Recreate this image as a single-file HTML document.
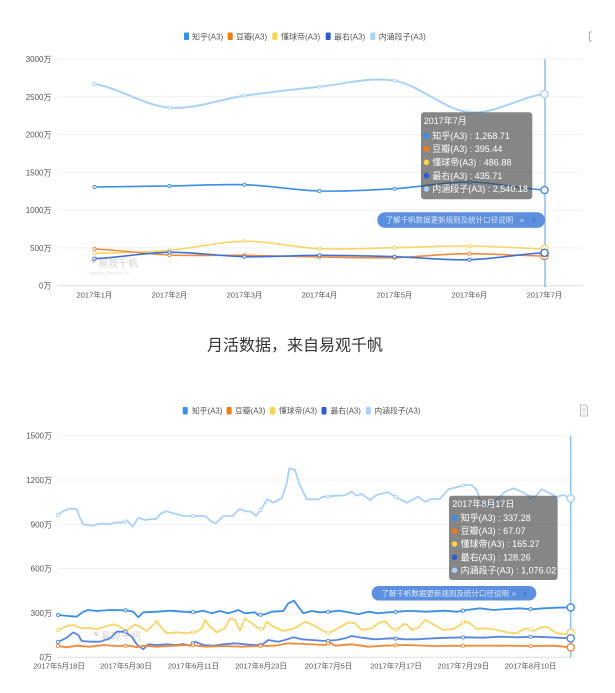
<!DOCTYPE html>
<html><head><meta charset="utf-8"><style>
html,body{margin:0;padding:0;background:#fff;}
svg{display:block;font-family:"Liberation Sans","Noto Sans CJK SC",sans-serif;}
</style></head><body>
<svg width="615" height="693" viewBox="0 0 615 693" xmlns="http://www.w3.org/2000/svg">
<rect width="615" height="693" fill="#fff"/>

<!-- ============ CHART 1 ============ -->
<!-- legend -->
<g font-size="8" fill="#555">
<rect x="184" y="32.5" width="5" height="7.5" rx="1" fill="#3a8ee6"/><text x="192" y="39.3">知乎(A3)</text>
<rect x="227.7" y="32.5" width="5" height="7.5" rx="1" fill="#f07c13"/><text x="236" y="39.3">豆瓣(A3)</text>
<rect x="272.3" y="32.5" width="5" height="7.5" rx="1" fill="#fbd350"/><text x="281" y="39.3">懂球帝(A3)</text>
<rect x="325.7" y="32.5" width="5" height="7.5" rx="1" fill="#2d5fcc"/><text x="334" y="39.3">最右(A3)</text>
<rect x="370.3" y="32.5" width="5" height="7.5" rx="1" fill="#a9d2fb"/><text x="378.7" y="39.3">内涵段子(A3)</text>
</g>
<path d="M592,32 L589.5,32 L589.5,41 L592,41" fill="none" stroke="#999" stroke-width="0.8"/>

<!-- grid -->
<g stroke="#f1f1f1" stroke-width="1">
<line x1="57.7" y1="59" x2="582.7" y2="59"/>
<line x1="57.7" y1="96.8" x2="582.7" y2="96.8"/>
<line x1="57.7" y1="134.6" x2="582.7" y2="134.6"/>
<line x1="57.7" y1="172.3" x2="582.7" y2="172.3"/>
<line x1="57.7" y1="210.1" x2="582.7" y2="210.1"/>
<line x1="57.7" y1="247.9" x2="582.7" y2="247.9"/>
</g>
<line x1="57.7" y1="285.7" x2="582.7" y2="285.7" stroke="#dedede" stroke-width="1"/>
<g font-size="8" fill="#555" text-anchor="end">
<text x="51.5" y="62">3000万</text>
<text x="51.5" y="99.8">2500万</text>
<text x="51.5" y="137.6">2000万</text>
<text x="51.5" y="175.3">1500万</text>
<text x="51.5" y="213.1">1000万</text>
<text x="51.5" y="250.9">500万</text>
<text x="51.5" y="288.7">0万</text>
</g>
<g font-size="7.5" fill="#555" text-anchor="middle">
<text x="94.5" y="297.5">2017年1月</text>
<text x="169.5" y="297.5">2017年2月</text>
<text x="244.5" y="297.5">2017年3月</text>
<text x="319.5" y="297.5">2017年4月</text>
<text x="394.5" y="297.5">2017年5月</text>
<text x="469.5" y="297.5">2017年6月</text>
<text x="544.5" y="297.5">2017年7月</text>
</g>

<!-- watermark -->
<g fill="#d2d2d2">
<path d="M89,262 l4,-4 l1,3 l3,-1 l-4,4 l-1,-3z" fill="#d5d5d5"/>
<text x="98" y="267" font-size="10">易观千帆</text>
<text x="90" y="274.5" font-size="4.5" fill="#e0e0e0">qianfan.analysys.cn</text>
</g>

<!-- series -->
<g fill="none" stroke-linecap="round" stroke-linejoin="round">
<path stroke="#a9d2fb" stroke-width="2" d="M94.5,84 C119.5,87.95 144.5,105.75 169.5,107.7 C194.5,109.65 219.5,99.2 244.5,95.7 C269.5,92.2 294.5,89.2 319.5,86.7 C344.5,84.2 369.5,76.43 394.5,80.7 C419.5,84.97 444.5,110.08 469.5,112.3 C494.5,114.52 519.5,97.05 544.5,94"/>
<path stroke="#3b8fe8" stroke-width="1.6" d="M94.5,187 C119.5,186.83 144.5,186.38 169.5,186 C194.5,185.62 219.5,183.87 244.5,184.7 C269.5,185.53 294.5,190.33 319.5,191 C344.5,191.67 369.5,190.2 394.5,188.7 C419.5,187.2 444.5,181.78 469.5,182 C494.5,182.22 519.5,188.67 544.5,190"/>
<path stroke="#fad466" stroke-width="1.6" d="M94.5,253.3 C119.5,252.8 144.5,252.3 169.5,250.3 C194.5,248.3 219.5,241.57 244.5,241.3 C269.5,241.03 294.5,247.63 319.5,248.7 C344.5,249.77 369.5,248.15 394.5,247.7 C419.5,247.25 444.5,245.82 469.5,246 C494.5,246.18 519.5,248.33 544.5,248.8"/>
<path stroke="#f5893a" stroke-width="1.6" d="M94.5,249 C119.5,250 144.5,253.95 169.5,255 C194.5,256.05 219.5,254.97 244.5,255.3 C269.5,255.63 294.5,256.6 319.5,257 C344.5,257.4 369.5,258.25 394.5,257.7 C419.5,257.15 444.5,253.42 469.5,253.7 C494.5,253.98 519.5,255.62 544.5,256"/>
<path stroke="#3f72d8" stroke-width="1.6" d="M94.5,258.7 C119.5,257.63 144.5,252.63 169.5,252.3 C194.5,251.97 219.5,256.2 244.5,256.7 C269.5,257.2 294.5,255.3 319.5,255.3 C344.5,255.3 369.5,255.97 394.5,256.7 C419.5,257.43 444.5,260.35 469.5,259.7 C494.5,259.05 519.5,253.95 544.5,252.8"/>
</g>
<!-- markers -->
<g fill="#fff" stroke-width="0.9">
<g stroke="#a9d2fb"><circle cx="94.5" cy="84" r="1.6"/><circle cx="169.5" cy="107.7" r="1.6"/><circle cx="244.5" cy="95.7" r="1.6"/><circle cx="319.5" cy="86.7" r="1.6"/><circle cx="394.5" cy="80.7" r="1.6"/><circle cx="469.5" cy="112.3" r="1.6"/></g>
<g stroke="#3b8fe8"><circle cx="94.5" cy="187" r="1.6"/><circle cx="169.5" cy="186" r="1.6"/><circle cx="244.5" cy="184.7" r="1.6"/><circle cx="319.5" cy="191" r="1.6"/><circle cx="394.5" cy="188.7" r="1.6"/><circle cx="469.5" cy="182" r="1.6"/></g>
<g stroke="#fad466"><circle cx="94.5" cy="253.3" r="1.6"/><circle cx="169.5" cy="250.3" r="1.6"/><circle cx="244.5" cy="241.3" r="1.6"/><circle cx="319.5" cy="248.7" r="1.6"/><circle cx="394.5" cy="247.7" r="1.6"/><circle cx="469.5" cy="246" r="1.6"/></g>
<g stroke="#f5893a"><circle cx="94.5" cy="249" r="1.6"/><circle cx="169.5" cy="255" r="1.6"/><circle cx="244.5" cy="255.3" r="1.6"/><circle cx="319.5" cy="257" r="1.6"/><circle cx="394.5" cy="257.7" r="1.6"/><circle cx="469.5" cy="253.7" r="1.6"/></g>
<g stroke="#3f72d8"><circle cx="94.5" cy="258.7" r="1.6"/><circle cx="169.5" cy="252.3" r="1.6"/><circle cx="244.5" cy="256.7" r="1.6"/><circle cx="319.5" cy="255.3" r="1.6"/><circle cx="394.5" cy="256.7" r="1.6"/><circle cx="469.5" cy="259.7" r="1.6"/></g>
</g>
<!-- axis pointer -->
<line x1="545" y1="59" x2="545" y2="287" stroke="#5b9be6" stroke-width="1"/>
<g fill="#fff" stroke-width="1.4">
<circle cx="544.5" cy="94" r="3.6" stroke="#a9d2fb"/>
<circle cx="544.5" cy="190" r="3.6" stroke="#3b8fe8"/>
<circle cx="544.5" cy="248.8" r="3.6" stroke="#fad466"/>
<circle cx="544.5" cy="256" r="3.6" stroke="#f5893a"/>
<circle cx="544.5" cy="252.8" r="3.6" stroke="#3f72d8"/>
</g>
<!-- tooltip -->
<rect x="421" y="112.3" width="111.3" height="87" rx="3" fill="rgba(60,60,60,0.62)"/>
<g font-size="9" fill="#fff">
<text x="423.7" y="124.2">2017年7月</text>
<circle cx="426.5" cy="135.7" r="2.8" fill="#3a8ee6"/><text x="432.3" y="138.9">知乎(A3) : 1,268.71</text>
<circle cx="426.5" cy="149" r="2.8" fill="#f07c13"/><text x="432.3" y="152.2">豆瓣(A3) : 395.44</text>
<circle cx="426.5" cy="162.3" r="2.8" fill="#fbd350"/><text x="432.3" y="165.5">懂球帝(A3) : 486.88</text>
<circle cx="426.5" cy="175.7" r="2.8" fill="#2d5fcc"/><text x="432.3" y="178.9">最右(A3) : 435.71</text>
<circle cx="426.5" cy="189" r="2.8" fill="#a9d2fb"/><text x="432.3" y="192.2">内涵段子(A3) : 2,540.18</text>
</g>
<!-- button -->
<rect x="377.3" y="213" width="167.7" height="15.4" rx="7.7" fill="#c9d6ee" opacity="0.6"/>
<rect x="377.3" y="212.3" width="167.7" height="15.4" rx="7.7" fill="#5d8fe0"/>
<g font-size="7.5" fill="#dce8fb">
<text x="385.7" y="222.6">了解千帆数据更新规则及统计口径说明</text>
<text x="520" y="222.6">»</text>
<text x="531.5" y="222.6" fill="#3a64b3">×</text>
</g>

<!-- title -->
<text x="295" y="350.5" font-size="16" fill="#333" text-anchor="middle">月活数据，来自易观千帆</text>

<!-- ============ CHART 2 ============ -->
<g font-size="7.8" fill="#555">
<rect x="182.7" y="407" width="5" height="7.5" rx="1" fill="#3a8ee6"/><text x="192" y="413.7">知乎(A3)</text>
<rect x="226.6" y="407" width="5" height="7.5" rx="1" fill="#f07c13"/><text x="235" y="413.7">豆瓣(A3)</text>
<rect x="270" y="407" width="5" height="7.5" rx="1" fill="#fbd350"/><text x="279" y="413.7">懂球帝(A3)</text>
<rect x="321.5" y="407" width="5" height="7.5" rx="1" fill="#2d5fcc"/><text x="330.5" y="413.7">最右(A3)</text>
<rect x="365.8" y="407" width="5" height="7.5" rx="1" fill="#a9d2fb"/><text x="374.4" y="413.7">内涵段子(A3)</text>
</g>
<!-- doc icon -->
<path d="M580.5,405 L585.5,405 L587.5,407 L587.5,416 L580.5,416 Z" fill="#fff" stroke="#aaa" stroke-width="0.8"/>
<line x1="582" y1="409" x2="586" y2="409" stroke="#bbb" stroke-width="0.6"/>
<line x1="582" y1="411" x2="586" y2="411" stroke="#bbb" stroke-width="0.6"/>
<line x1="582" y1="413" x2="586" y2="413" stroke="#bbb" stroke-width="0.6"/>

<g stroke="#f1f1f1" stroke-width="1">
<line x1="57.5" y1="435.7" x2="570.5" y2="435.7"/>
<line x1="57.5" y1="480" x2="570.5" y2="480"/>
<line x1="57.5" y1="524.3" x2="570.5" y2="524.3"/>
<line x1="57.5" y1="568.6" x2="570.5" y2="568.6"/>
<line x1="57.5" y1="612.9" x2="570.5" y2="612.9"/>
</g>
<line x1="57.5" y1="657.2" x2="570.5" y2="657.2" stroke="#dedede" stroke-width="1"/>
<g font-size="8" fill="#555" text-anchor="end">
<text x="52" y="438.7">1500万</text>
<text x="52" y="483">1200万</text>
<text x="52" y="527.3">900万</text>
<text x="52" y="571.6">600万</text>
<text x="52" y="615.9">300万</text>
<text x="52" y="660.2">0万</text>
</g>
<g font-size="7.5" fill="#555" text-anchor="middle">
<text x="59" y="668.5">2017年5月18日</text>
<text x="126" y="668.5">2017年5月30日</text>
<text x="193.5" y="668.5">2017年6月11日</text>
<text x="261" y="668.5">2017年6月23日</text>
<text x="328.5" y="668.5">2017年7月5日</text>
<text x="396" y="668.5">2017年7月17日</text>
<text x="463.3" y="668.5">2017年7月29日</text>
<text x="530.6" y="668.5">2017年8月10日</text>
</g>

<!-- watermark 2 -->
<g fill="#d2d2d2">
<path d="M92,635 l4,-4 l1,3 l3,-1 l-4,4 l-1,-3z" fill="#d5d5d5"/>
<text x="101" y="640" font-size="10">易观千帆</text>
<text x="93" y="647.5" font-size="4.5" fill="#e0e0e0">qianfan.analysys.cn</text>
</g>

<g fill="none" stroke-linecap="round" stroke-linejoin="round" stroke-width="1.8">
<polyline stroke="#a9d2fb" points="58,515 63.3,511 70,508.7 76.7,509 80,518 83.3,524.3 91.7,525.7 100,523.7 110,524.3 115,522.7 123.3,522.3 127.3,520.7 132.7,526.7 138.3,517.7 145,520 150,519 156,519 161.7,512.7 166.7,511.3 173.3,513.3 183.3,516 195,516 205,516 211.7,521.7 216,523.3 223.3,516 232.7,516 239.3,509 246,511.3 251,511.7 256,516 261.7,508.3 267.3,499.3 273.3,502.7 281.7,498.3 286.7,483.3 289.3,468.3 295,470 299.3,484 306.7,499.3 318.3,499.3 323.3,496.7 336.7,495.7 345,495.3 351.7,491.7 356.7,495.7 361.7,494 370,500 376.7,495 388.3,492 395,496.7 406.7,502.7 418.3,496.7 425,501.7 431.7,499 440,499 448.3,489.3 456.7,487.3 465,485 471.7,485 476.7,490 481,503 487,507 492,503 498.3,498.3 505,491.7 513.3,488.3 521.7,491.7 530,496.7 535,496.7 541.7,489.3 548.3,492.7 556.7,496.7 563.3,495 570.7,498.3"/>
<polyline stroke="#3b8fe8" points="58,615 68.3,616 76.7,616.7 83.3,611.7 88.3,610 96.7,611 110,610 126.7,610.3 133.3,611.7 138.3,617.3 143.3,612.3 156.7,611.7 170,610.7 183.3,611.7 195,612.3 203.3,610.7 211.7,613.3 220,611 228.3,613.3 231.7,612.3 238.3,610 245,613.3 255,612.3 258.3,615 265,614.3 271.7,611.7 283.3,611 288.3,603.3 294,600.7 298.3,606.7 303.3,613.3 311.7,611 320,612.3 330,611.7 340,610.7 348.3,612.3 358.3,614.3 368.3,611.7 378.3,613.3 388.3,612.3 398.3,611.7 405,611 413.3,611 426.7,611.7 443.3,610.7 456.7,611.7 466.7,610 480,608.3 493.3,610 506.7,609 520,608.3 531.7,609.3 543.3,608.3 556.7,607.7 570.7,607.4"/>
<polyline stroke="#fad466" points="58,630 68.3,625.7 73.3,625 81.7,628.3 90,627.7 96.7,629.3 106.7,626 115,624.3 120,626.7 125,631 130,628.3 135,624.3 140,626.7 146.7,631 153.3,625 156.7,621 161.7,628.3 166.7,633.3 176.7,632.3 186.7,633.3 196.7,631.7 201.7,628.3 205,620 210,626.7 216.7,632.3 225,628 230,618.3 235,620 240,630.7 245,618.3 251.7,623.3 258.3,628.3 263.3,629.3 266.7,621.7 273.3,626.7 283.3,631 295,628.3 305,621.7 313.3,625 321.7,630 328.3,633.3 338.3,628.3 348.3,622.3 355,623.3 361.7,630 371.7,628.3 378.3,623.3 385,621 391.7,628.3 396.7,630 403.3,624.3 406.7,624.3 411.7,630 418.3,627.7 425,620 433.3,624.3 443.3,630 453.3,629 460,625 465,621 470,623.3 476.7,629 486.7,628.3 496.7,630 506.7,632.3 516.7,633.3 525,628.3 533.3,631 540,627.7 546.7,626.7 556.7,633.3 565,634.3 570.7,632.8"/>
<polyline stroke="#5a86e0" points="58,642 66.7,637.7 73.3,632.3 78.3,635 81.7,641 90,641.7 100,641.7 110,638.3 116.7,631.7 125,631.7 131.7,636.7 136.7,644.3 143.3,649.3 148.3,644.3 156.7,645 166.7,644.3 176.7,645 183.3,644 190,645.7 195,641.7 203.3,645 213.3,645.7 223.3,644.3 235,643.3 245,644.3 255,645 261.7,645 268.3,640 278.3,641.7 285,640 293.3,637.3 301.7,639.3 311.7,640 325,641 336.7,640 345,638.3 351.7,636 361.7,637.7 375,639.3 391.7,638.3 405,639.3 416.7,639.3 433.3,638.3 450,637.7 466.7,637.3 483.3,637.7 500,636.7 516.7,637.3 533.3,636.7 550,637.3 570.7,638.3"/>
<polyline stroke="#f5893a" points="58,646 66.7,647.3 76.7,645.7 90,646.7 103.3,645 116.7,646 130,645.7 136.7,647.3 143.3,645.7 156.7,646.7 173.3,645.7 190,645 206.7,646.7 223.3,646 241.7,646.7 258.3,646 275,645.7 288.3,643.3 305,644 325,645 330,642.7 335,645.7 351.7,644.3 368.3,646.7 385,645.7 405,645 433.3,646 466.7,645.7 500,645.7 533.3,646 553.3,645.7 570.7,647.3"/>
</g>
<!-- markers 2 -->
<g fill="#fff" stroke-width="0.9">
<g stroke="#a9d2fb"><circle cx="58" cy="515" r="1.6"/><circle cx="125.5" cy="521.5" r="1.6"/><circle cx="193" cy="516" r="1.6"/><circle cx="260.5" cy="510" r="1.6"/><circle cx="328" cy="496.5" r="1.6"/><circle cx="395.6" cy="497" r="1.6"/><circle cx="463" cy="485.5" r="1.6"/><circle cx="530.6" cy="496.7" r="1.6"/></g>
<g stroke="#3b8fe8"><circle cx="58" cy="615" r="1.6"/><circle cx="125.5" cy="610.3" r="1.6"/><circle cx="193" cy="612.2" r="1.6"/><circle cx="260.5" cy="614.8" r="1.6"/><circle cx="328" cy="611.8" r="1.6"/><circle cx="395.6" cy="611.9" r="1.6"/><circle cx="463" cy="610.6" r="1.6"/><circle cx="530.6" cy="609.2" r="1.6"/></g>
<g stroke="#fad466"><circle cx="58" cy="630" r="1.6"/><circle cx="125.5" cy="630.7" r="1.6"/><circle cx="193" cy="632.3" r="1.6"/><circle cx="260.5" cy="628.8" r="1.6"/><circle cx="328" cy="633.2" r="1.6"/><circle cx="395.6" cy="629.6" r="1.6"/><circle cx="463" cy="622.4" r="1.6"/><circle cx="530.6" cy="629.6" r="1.6"/></g>
<g stroke="#5a86e0"><circle cx="58" cy="642" r="1.6"/><circle cx="125.5" cy="631.7" r="1.6"/><circle cx="193" cy="643.3" r="1.6"/><circle cx="260.5" cy="645" r="1.6"/><circle cx="328" cy="640.8" r="1.6"/><circle cx="395.6" cy="638.6" r="1.6"/><circle cx="463" cy="637.4" r="1.6"/><circle cx="530.6" cy="636.8" r="1.6"/></g>
<g stroke="#f5893a"><circle cx="58" cy="646" r="1.6"/><circle cx="125.5" cy="645.8" r="1.6"/><circle cx="193" cy="645.3" r="1.6"/><circle cx="260.5" cy="645.9" r="1.6"/><circle cx="328" cy="643.6" r="1.6"/><circle cx="395.6" cy="645.3" r="1.6"/><circle cx="463" cy="645.7" r="1.6"/><circle cx="530.6" cy="646" r="1.6"/></g>
</g>
<line x1="570.7" y1="435.7" x2="570.7" y2="658" stroke="#8dc1f2" stroke-width="1.4"/>
<g fill="#fff" stroke-width="1.4">
<circle cx="570.7" cy="498.3" r="3.6" stroke="#a9d2fb"/>
<circle cx="570.7" cy="607.4" r="3.6" stroke="#3b8fe8"/>
<circle cx="570.7" cy="632.8" r="3.6" stroke="#fad466"/>
<circle cx="570.7" cy="638.3" r="3.6" stroke="#5a86e0"/>
<circle cx="570.7" cy="647.3" r="3.6" stroke="#f5893a"/>
</g>
<!-- tooltip 2 -->
<rect x="449" y="495.7" width="108.6" height="84.3" rx="3" fill="rgba(60,60,60,0.62)"/>
<g font-size="9" fill="#fff">
<text x="452.3" y="507.2">2017年8月17日</text>
<circle cx="454.5" cy="518" r="2.8" fill="#3a8ee6"/><text x="460.6" y="521.2">知乎(A3) : 337.28</text>
<circle cx="454.5" cy="531" r="2.8" fill="#f07c13"/><text x="460.6" y="534.2">豆瓣(A3) : 67.07</text>
<circle cx="454.5" cy="544" r="2.8" fill="#fbd350"/><text x="460.6" y="547.2">懂球帝(A3) : 165.27</text>
<circle cx="454.5" cy="557.3" r="2.8" fill="#2d5fcc"/><text x="460.6" y="560.5">最右(A3) : 128.26</text>
<circle cx="454.5" cy="570.3" r="2.8" fill="#a9d2fb"/><text x="460.6" y="573.5">内涵段子(A3) : 1,076.02</text>
</g>
<!-- button 2 -->
<rect x="371.6" y="586.7" width="164.7" height="14.4" rx="7.2" fill="#c9d6ee" opacity="0.6"/>
<rect x="371.6" y="586" width="164.7" height="14.4" rx="7.2" fill="#5d8fe0"/>
<g font-size="7.5" fill="#dce8fb">
<text x="381.4" y="595.8">了解千帆数据更新规则及统计口径说明</text>
<text x="512" y="595.8">»</text>
<text x="523" y="595.8" fill="#3a64b3">×</text>
</g>
</svg>
</body></html>
